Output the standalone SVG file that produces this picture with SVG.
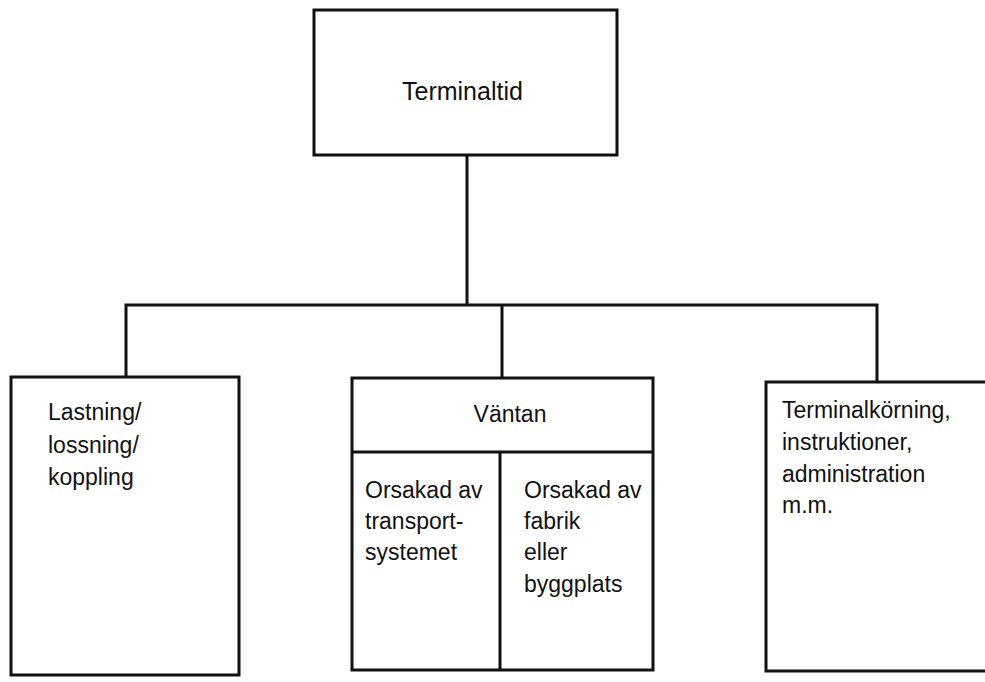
<svg xmlns="http://www.w3.org/2000/svg" width="985" height="682" viewBox="0 0 985 682">
<style>
.box{fill:none;stroke:#111;stroke-width:3;stroke-linejoin:miter}
.ln{fill:none;stroke:#111;stroke-width:3}
text{font-family:"Liberation Sans",Arial,sans-serif;font-size:23px;fill:#111}
</style>
<rect width="985" height="682" fill="#fff"/>
<g id="connectors">
<path class="ln" d="M467 155 V306"/>
<path class="ln" d="M126 377 V305 H877 V382"/>
<path class="ln" d="M502 306 V378"/>
</g>
<g id="terminaltid">
<rect class="box" x="314" y="10" width="303" height="145"/>
<text x="402" y="100" style="font-size:25px">Terminaltid</text>
</g>
<g id="lastning">
<rect class="box" x="11" y="377" width="228" height="298"/>
<text x="48" y="420">Lastning/</text>
<text x="48" y="453">lossning/</text>
<text x="48" y="485">koppling</text>
</g>
<g id="vantan">
<rect class="box" x="352" y="378" width="301" height="292"/>
<text x="510" y="422" text-anchor="middle">Väntan</text>
<path class="ln" d="M352 452 H653"/>
</g>
<g id="transportsystemet">
<text x="365" y="498">Orsakad av</text>
<text x="365" y="529">transport-</text>
<text x="365" y="560">systemet</text>
</g>
<g id="fabrik">
<path class="ln" d="M500 452 V670"/>
<text x="524" y="498">Orsakad av</text>
<text x="524" y="529">fabrik</text>
<text x="524" y="560">eller</text>
<text x="524" y="592">byggplats</text>
</g>
<g id="terminalkorning">
<path class="box" d="M990 382 H766 V671 H990"/>
<text x="782" y="418">Terminalkörning,</text>
<text x="782" y="450">instruktioner,</text>
<text x="782" y="482">administration</text>
<text x="782" y="513">m.m.</text>
</g>
</svg>
